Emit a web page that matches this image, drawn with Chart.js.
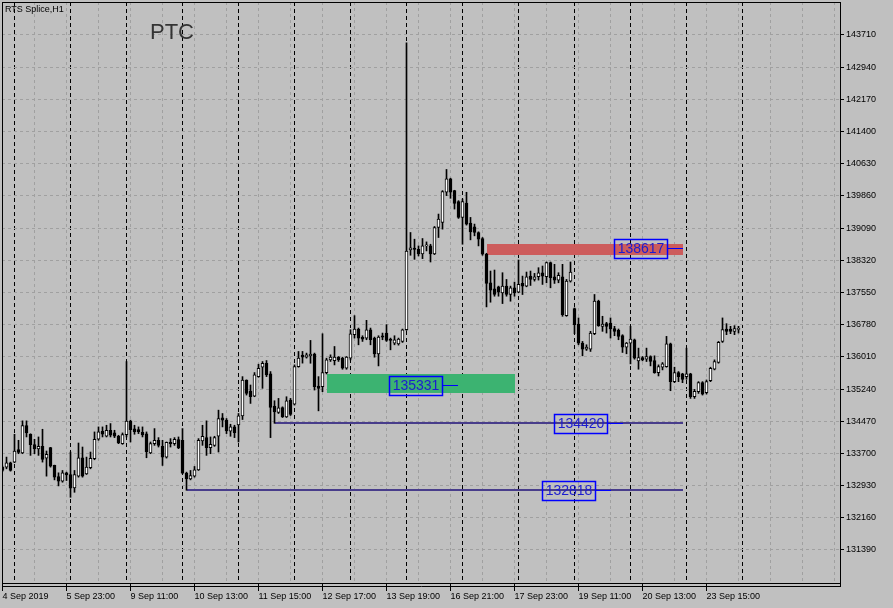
<!DOCTYPE html>
<html>
<head>
<meta charset="utf-8">
<script src="https://cdn.jsdelivr.net/npm/chart.js@4.4.1/dist/chart.umd.min.js"></script>
<style>
html,body{margin:0;padding:0;background:#c0c0c0;overflow:hidden;}
#wrap{position:relative;width:893px;height:608px;background:#c0c0c0;}
#c{position:absolute;left:0;top:0;}
#title{position:absolute;left:5px;top:5px;font-family:"Liberation Sans",Arial,sans-serif;font-size:9px;line-height:1;color:#000;white-space:nowrap;}
#sym{position:absolute;left:150px;top:21px;font-family:"Liberation Sans",Arial,sans-serif;font-size:22px;line-height:1;color:#333;white-space:nowrap;}
</style>
</head>
<body>
<div id="wrap">
<canvas id="c" width="893" height="608"></canvas>
<div id="title">RTS Splice,H1</div>
<div id="sym">PTC</div>
</div>
<script>
// ---- Candles (H1) ----
const open = [133372,133372,133476,133492,133789,133709,134366,134158,133909,133805,133869,133588,133837,133412,133148,133035,133236,133196,132875,133156,133596,133212,133356,133572,134038,134230,134110,134254,134190,134110,133933,134150,134471,134286,134270,134206,134166,133709,133933,134014,133869,133612,133965,133933,134030,134014,133228,133091,133156,133308,133998,134078,133837,133893,134110,134551,134495,134230,134334,134382,134599,135457,135192,135072,135537,135762,135858,135601,134831,134679,134799,134575,134976,134880,135778,136050,136002,136034,136074,135312,135296,135633,135937,135921,136002,135978,135737,135978,136539,136675,136475,136459,136659,136459,136082,136515,136579,136435,136338,136320,136379,136659,138568,138610,138584,138472,138664,138664,138472,139105,139226,139947,140268,139987,139723,139346,139691,139210,139121,138985,138841,138464,137782,137638,137686,137542,137702,137501,137662,137558,137766,137702,137942,137862,137926,138023,137926,138263,137926,137846,137926,136997,137822,137165,136796,136339,136195,136195,136564,137342,136740,136804,136820,136684,136644,136516,136243,136339,136419,135914,135994,135954,136019,135922,135634,135762,135778,136323,135417,135634,135601,135537,135601,135056,135176,135393,135152,135441,135714,135874,136379,136676,136676,136620,136668];
const high = [133400,133612,133492,134158,134014,134479,134479,134170,134038,134094,134278,133757,133845,133420,133236,133292,133252,133733,133292,133949,133853,133612,133733,134214,134334,134334,134374,134414,134254,134134,134190,135898,134495,134374,134334,134334,134214,133973,134294,134078,134014,133973,134054,134078,134094,134294,133252,133292,133388,134054,134374,134479,134094,134110,134735,134655,134535,134398,134374,134655,135537,135460,135337,135634,135834,135898,135922,135658,134960,135016,134815,135056,135016,135818,136139,136140,136100,136403,136100,135537,136563,135978,136058,136258,136018,136002,136018,136659,136996,136699,136515,136884,136699,136483,136515,136579,136780,136459,136515,136459,136675,143520,138985,138825,138664,138841,138760,138704,139129,139426,139987,140493,140284,139995,139747,139787,139947,139346,139186,139001,138865,138488,138063,138087,137702,138023,137862,137702,137798,138327,137942,138039,138063,138007,138143,138183,138279,138279,138223,138023,138223,137862,138279,137180,136941,136379,136299,136620,137502,137366,136981,136836,136941,136740,136676,136540,136355,136740,136436,136219,136019,136219,136035,136035,135818,135874,136500,136339,135762,135658,135617,136219,135617,135232,135417,135417,135457,135762,135938,136379,136941,136804,136740,136756,136740];
const low = [133270,133332,133276,133480,133693,133693,134094,133653,133693,133653,133492,133156,133372,133067,132923,133011,133051,132650,132770,133132,133132,133196,133332,133548,134014,134094,134094,134094,134078,133933,133917,134094,133973,134158,134174,134094,133596,133693,133893,133853,133412,133588,133853,133893,133813,133212,132818,133067,133132,133292,133893,133653,133693,133869,133733,134334,134174,134110,134078,133973,134511,135096,134896,135056,135521,135257,135537,134078,134420,134655,134559,134559,134607,134856,135762,135860,135980,135857,135216,134718,135176,135601,135900,135817,135900,135713,135713,135937,136459,136298,136379,136419,136298,136002,135793,136419,136379,136178,136298,136290,136355,136640,138440,138343,138424,138360,138544,138279,138456,138865,139065,139867,139803,139546,139322,138704,139162,138809,138905,138664,138440,137205,137317,137461,137461,137285,137461,137341,137461,137542,137501,137686,137718,137822,137846,137742,137782,137662,137766,137782,136980,136980,137798,136564,136299,136035,136163,136139,136540,136740,136620,136580,136460,136516,136419,136115,136083,135842,135954,135714,135914,135898,135794,135617,135553,135698,135762,135200,135393,135417,135393,135473,135016,135016,135136,135096,135120,135417,135698,135858,136355,136540,136564,136540,136580];
const close = [133292,133476,133292,133757,133725,134366,134190,133909,133805,133869,133556,133677,133396,133132,133035,133236,133188,132867,133196,133596,133156,133372,133580,134038,134214,134158,134254,134134,134110,133949,134150,134471,134270,134222,134222,134142,133741,133933,134014,133893,133612,133965,133933,134038,133829,133228,133091,133172,133308,134014,134110,133837,133917,134078,134535,134495,134238,134334,134198,134599,135457,135136,135056,135577,135738,135858,135577,134799,134695,134791,134575,134960,134631,135778,135978,136002,136058,136074,135296,135256,135633,135937,136002,136002,135937,135737,136002,136563,136675,136459,136435,136659,136419,136082,136483,136483,136403,136403,136419,136435,136659,138540,138616,138580,138472,138664,138680,138472,139105,139306,139963,140268,139947,139683,139346,139723,139186,139001,138985,138825,138464,137766,137606,137501,137558,137702,137501,137662,137542,137742,137702,137926,137862,137926,138023,137942,138263,137902,137846,137958,137020,137822,138039,136780,136339,136195,136243,136580,137342,136756,136796,136740,136676,136620,136500,136243,136339,136436,135978,135994,135938,136019,135898,135634,135778,135842,136323,135417,135634,135537,135473,135601,135056,135184,135393,135120,135417,135738,135898,136355,136660,136620,136620,136684,136676];

// ---- Axis texts ----
const priceTicks = [131390,132160,132930,133700,134470,135240,136010,136780,137550,138320,139090,139860,140630,141400,142170,142940,143710];
const timeLabels = ['4 Sep 2019','5 Sep 23:00','9 Sep 11:00','10 Sep 13:00','11 Sep 15:00','12 Sep 17:00','13 Sep 19:00','16 Sep 21:00','17 Sep 23:00','19 Sep 11:00','20 Sep 13:00','23 Sep 15:00'];
const daySeparators = [3,17,31,45,59,73,87,101,115,129,143,157,171,185];

// ---- Drawn objects (bar index / price) ----
const zoneTop = [138705, 135601];
const zoneBottom = [138440, 135144];
const zoneFrom = [121, 81];
const zoneTo = [170, 128];
const zoneColors = ['#cd5c5c', '#3cb371'];
const levelPrice = [134420, 132818];
const levelFrom = [68, 46];
const levelTo = [170, 170];
const tagPrice = [138617, 135331, 134420, 132818];
const tagEnd = [170, 114, 155, 152];

const FONT = "'Liberation Sans', Arial, sans-serif";
Chart.defaults.font.family = FONT;
Chart.defaults.font.size = 9;
Chart.defaults.color = '#000';

const idx = open.map((_, i) => i);
const wickData = idx.map(i => ({x: i, y: [low[i], high[i]]}));
const bodyData = idx.map(i => ({x: i, y: [open[i], close[i]]}));
const bodyColors = idx.map(i => close[i] >= open[i] ? '#ffffff' : '#000000');

const GRID_STEP = 8, SLOTS = 209;
const X_MIN = -0.125, X_MAX = 209.375;

function zeroPad(axis) { axis.paddingLeft = 0; axis.paddingRight = 0; axis.paddingTop = 0; axis.paddingBottom = 0; }

const overlay = {
  id: 'overlay',
  beforeDatasetsDraw(chart) {
    const {ctx, chartArea: a} = chart;
    const xs = chart.scales.x, ys = chart.scales.y;
    ctx.save();
    ctx.beginPath(); ctx.rect(a.left, a.top, a.right - a.left, a.bottom - a.top); ctx.clip();
    zoneTop.forEach((t, i) => {
      const x1 = xs.getPixelForValue(zoneFrom[i]), x2 = xs.getPixelForValue(zoneTo[i]);
      const y1 = ys.getPixelForValue(zoneTop[i]), y2 = ys.getPixelForValue(zoneBottom[i]);
      ctx.fillStyle = zoneColors[i];
      ctx.fillRect(Math.round(x1), Math.round(y1), Math.round(x2 - x1), Math.round(y2 - y1));
    });
    levelPrice.forEach((p, i) => {
      const x1 = xs.getPixelForValue(levelFrom[i]), x2 = xs.getPixelForValue(levelTo[i]);
      const y = Math.round(ys.getPixelForValue(p));
      ctx.strokeStyle = '#483d8b'; ctx.lineWidth = 2;
      ctx.beginPath(); ctx.moveTo(Math.round(x1), y); ctx.lineTo(Math.round(x2), y); ctx.stroke();
    });
    ctx.restore();
  },
  afterDatasetsDraw(chart) {
    const {ctx, chartArea: a} = chart;
    const xs = chart.scales.x, ys = chart.scales.y;
    ctx.save();
    ctx.font = '14px ' + FONT;
    ctx.textBaseline = 'middle';
    ctx.textAlign = 'center';
    tagPrice.forEach((p, i) => {
      const xe = Math.round(xs.getPixelForValue(tagEnd[i]));
      const yc = Math.round(ys.getPixelForValue(p));
      const txt = String(p);
      const w = Math.round(ctx.measureText(txt).width) + 6;
      const h = 19;
      const bx = xe - 16 - w;
      const by = yc - 9;
      ctx.strokeStyle = '#0000ff'; ctx.lineWidth = 1;
      ctx.beginPath(); ctx.moveTo(bx + w, yc + 0.5); ctx.lineTo(xe, yc + 0.5); ctx.stroke();
      ctx.lineWidth = 1.5;
      ctx.strokeRect(bx + 0.5, by + 0.5, w, h);
      ctx.fillStyle = '#1c1cd0';
      ctx.fillText(txt, bx + w / 2 + 0.5, yc + 1);
    });
    ctx.strokeStyle = '#000'; ctx.lineWidth = 1;
    ctx.strokeRect(a.left + 0.5, a.top + 0.5, a.right - a.left, a.bottom - a.top);
    ctx.beginPath(); ctx.moveTo(a.left, a.bottom + 3.5); ctx.lineTo(a.right + 1, a.bottom + 3.5); ctx.stroke();
    ctx.beginPath(); ctx.moveTo(a.right + 0.5, a.bottom); ctx.lineTo(a.right + 0.5, a.bottom + 4); ctx.stroke();
    ctx.restore();
  }
};

new Chart(document.getElementById('c'), {
  type: 'bar',
  data: {
    datasets: [
      {label: 'wick', data: wickData, backgroundColor: '#000', borderWidth: 0, barThickness: 1, grouped: false, order: 2},
      {label: 'body', data: bodyData, backgroundColor: bodyColors, borderColor: '#000', borderWidth: 1, borderSkipped: false, barThickness: 3, minBarLength: 1, grouped: false, order: 1}
    ]
  },
  options: {
    responsive: false,
    animation: false,
    devicePixelRatio: 1,
    events: [],
    layout: {padding: {left: 2, top: 2, right: 0, bottom: 0}, autoPadding: false},
    plugins: {legend: {display: false}, tooltip: {enabled: false}, title: {display: false}},
    scales: {
      x: {
        type: 'linear', position: 'bottom', min: X_MIN, max: X_MAX, offset: false,
        afterBuildTicks(axis) {
          const t = [];
          for (let i = 0; i <= SLOTS; i += GRID_STEP) t.push({value: i});
          axis.ticks = t;
        },
        afterFit(axis) { axis.height = 25; zeroPad(axis); },
        ticks: {autoSkip: false, maxRotation: 0, minRotation: 0, align: 'start', padding: 0,
          callback: (v, i) => (i % 2 === 0 && timeLabels[i / 2] !== undefined) ? timeLabels[i / 2] : ''},
        grid: {offset: false, color: '#a0a0a0', tickColor: c => (c.index % 2 === 0 && c.index / 2 < timeLabels.length) ? '#000000' : 'rgba(0,0,0,0)', tickLength: 8, lineWidth: 1},
        border: {display: false, dash: [3, 3]}
      },
      x2: {
        type: 'linear', position: 'bottom', min: X_MIN, max: X_MAX, offset: false,
        afterBuildTicks(axis) { axis.ticks = daySeparators.map(v => ({value: v})); },
        afterFit(axis) { axis.height = 0; zeroPad(axis); },
        ticks: {display: false},
        grid: {offset: false, color: '#000000', drawTicks: false, lineWidth: 1},
        border: {display: false, dash: [4, 3]}
      },
      y: {
        type: 'linear', position: 'right', min: 130600, max: 144499,
        afterBuildTicks(axis) { axis.ticks = priceTicks.map(v => ({value: v})); },
        afterFit(axis) { axis.width = 53; zeroPad(axis); },
        ticks: {autoSkip: false, padding: 2, callback: v => String(v)},
        grid: {offset: false, color: '#a0a0a0', tickColor: '#000000', tickLength: 4, lineWidth: 1},
        border: {display: false, dash: [3, 3]}
      }
    }
  },
  plugins: [overlay]
});
</script>
</body>
</html>
